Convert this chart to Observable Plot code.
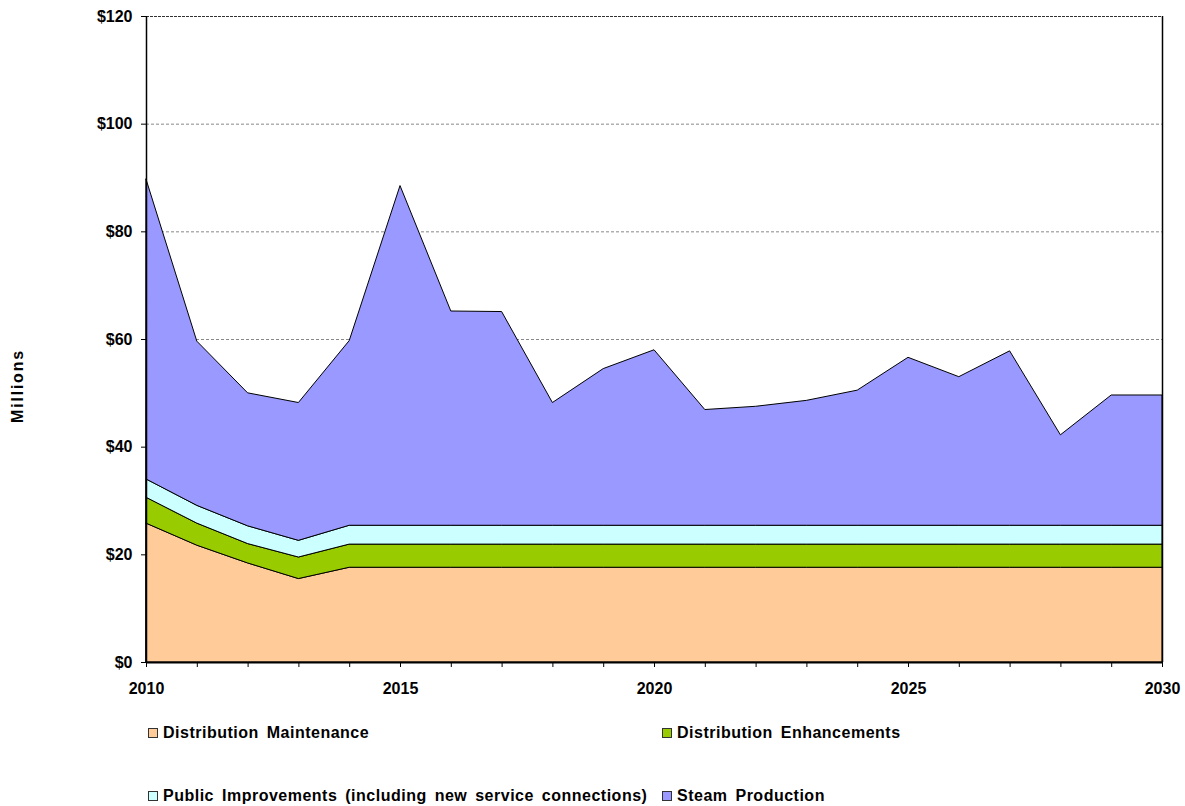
<!DOCTYPE html>
<html>
<head>
<meta charset="utf-8">
<script src="https://cdn.jsdelivr.net/npm/d3@7"></script>
<script src="https://cdn.jsdelivr.net/npm/@observablehq/plot@0.6"></script>
<style>
  html, body { margin: 0; padding: 0; background: #fff; }
  body { width: 1185px; height: 806px; position: relative; overflow: hidden; font-family: "Liberation Sans", Arial, sans-serif; }
  #chart { position: absolute; left: 0; top: 0; }
  .ytitle { position: absolute; left: 18px; top: 386px; transform: translate(-50%, -50%) rotate(-90deg); font-weight: bold; font-size: 16px; letter-spacing: 1.8px; color: #000; white-space: nowrap; }
  .leg { position: absolute; display: flex; align-items: center; font-weight: bold; font-size: 16px; letter-spacing: 0.5px; word-spacing: 3px; color: #000; white-space: nowrap; transform: translateY(-50%); }
  .leg .sw { width: 8px; height: 8px; border: 1px solid #333; margin-right: 5px; }
</style>
</head>
<body>
<div id="chart"></div>
<div class="ytitle">Millions</div>
<div id="legend"></div>
<script>
const years = [2010, 2011, 2012, 2013, 2014, 2015, 2016, 2017, 2018, 2019, 2020,
               2021, 2022, 2023, 2024, 2025, 2026, 2027, 2028, 2029, 2030];
const seriesNames = ["Distribution Maintenance", "Distribution Enhancements",
  "Public Improvements (including new service connections)", "Steam Production"];
const maintenance  = [25.8, 21.7, 18.4, 15.5, 17.6, 17.6, 17.6, 17.6, 17.6, 17.6, 17.6, 17.6, 17.6, 17.6, 17.6, 17.6, 17.6, 17.6, 17.6, 17.6, 17.6];
const enhancements = [4.8, 4.1, 3.6, 4.0, 4.3, 4.3, 4.3, 4.3, 4.3, 4.3, 4.3, 4.3, 4.3, 4.3, 4.3, 4.3, 4.3, 4.3, 4.3, 4.3, 4.3];
const publicImpr   = [3.4, 3.3, 3.3, 3.1, 3.5, 3.5, 3.5, 3.5, 3.5, 3.5, 3.5, 3.5, 3.5, 3.5, 3.5, 3.5, 3.5, 3.5, 3.5, 3.5, 3.5];
const steam        = [55.7, 30.5, 24.7, 25.6, 34.3, 63.1, 39.8, 39.7, 22.8, 29.1, 32.6, 21.5, 22.1, 23.2, 25.1, 31.2, 27.6, 32.4, 16.8, 24.2, 24.2];
const colors = ["#FFCC99", "#99CC00", "#CCFFFF", "#9999FF"];
const yTicks = [0, 20, 40, 60, 80, 100, 120];
const xLabelYears = [2010, 2015, 2020, 2025, 2030];

const valuesBySeries = [maintenance, enhancements, publicImpr, steam];
const data = [];
years.forEach((yr, i) => {
  seriesNames.forEach((s, k) => data.push({year: yr, series: s, value: valuesBySeries[k][i]}));
});

const font = '"Liberation Sans", Arial, sans-serif';
const chart = Plot.plot({
  width: 1185,
  height: 712,
  marginTop: 16,
  marginLeft: 146,
  marginRight: 23,
  marginBottom: 50,
  style: {fontFamily: font, fontSize: "16px", fontWeight: "bold", color: "#000", background: "#fff"},
  x: {domain: [2010, 2030]},
  y: {domain: [0, 120]},
  color: {domain: seriesNames, range: colors},
  marks: [
    Plot.ruleY(yTicks.filter(d => d > 0 && d < 120), {stroke: "#888", strokeDasharray: "3,2", strokeWidth: 1}),
    Plot.ruleY([120], {stroke: "#333", strokeDasharray: "3,1", strokeWidth: 1}),
    Plot.areaY(data, {x: "year", y: "value", z: "series", fill: "series", stroke: "#000", strokeWidth: 1, order: seriesNames}),
    Plot.ruleX([2030], {stroke: "#000", strokeWidth: 1.5}),
    Plot.ruleX([2010], {stroke: "#000", strokeWidth: 1.5}),
    Plot.ruleY([0], {stroke: "#000", strokeWidth: 2}),
    Plot.axisY({ticks: yTicks, tickFormat: d => "$" + d, tickSize: 5, tickPadding: 9, label: null, stroke: "#000", fontSize: 16, fontWeight: "bold"}),
    Plot.axisX({ticks: years, tickFormat: d => xLabelYears.includes(d) ? String(d) : "", tickSize: 5, tickPadding: 15, label: null, stroke: "#000", fontSize: 16, fontWeight: "bold"})
  ]
});
document.getElementById("chart").appendChild(chart);

const legendPos = [[148, 733], [662, 733], [148, 796], [662, 796]];
const legend = document.getElementById("legend");
seriesNames.forEach((s, k) => {
  const item = document.createElement("div");
  item.className = "leg";
  item.style.left = legendPos[k][0] + "px";
  item.style.top = legendPos[k][1] + "px";
  item.innerHTML = `<span class="sw" style="background:${colors[k]}"></span><span>${s}</span>`;
  legend.appendChild(item);
});
</script>
</body>
</html>
